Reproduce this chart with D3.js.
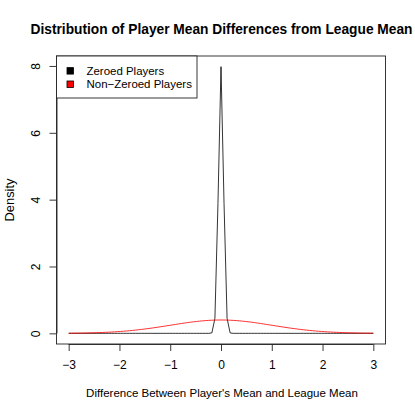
<!DOCTYPE html>
<html><head><meta charset="utf-8">
<script src="https://cdn.jsdelivr.net/npm/d3@7"></script>
<style>
html,body{margin:0;padding:0;background:#fff;}
text{font-family:"Liberation Sans",Arial,Helvetica,sans-serif;}
</style></head>
<body><svg id="c" width="415" height="415"></svg>
<script>
const xValues = [-3,-2.94,-2.88,-2.82,-2.76,-2.7,-2.64,-2.58,-2.52,-2.46,-2.4,-2.34,-2.28,-2.22,-2.16,-2.1,-2.04,-1.98,-1.92,-1.86,-1.8,-1.74,-1.68,-1.62,-1.56,-1.5,-1.44,-1.38,-1.32,-1.26,-1.2,-1.14,-1.08,-1.02,-0.96,-0.9,-0.84,-0.78,-0.72,-0.66,-0.6,-0.54,-0.48,-0.42,-0.36,-0.3,-0.24,-0.18,-0.12,-0.06,0,0.06,0.12,0.18,0.24,0.3,0.36,0.42,0.48,0.54,0.6,0.66,0.72,0.78,0.84,0.9,0.96,1.02,1.08,1.14,1.2,1.26,1.32,1.38,1.44,1.5,1.56,1.62,1.68,1.74,1.8,1.86,1.92,1.98,2.04,2.1,2.16,2.22,2.28,2.34,2.4,2.46,2.52,2.58,2.64,2.7,2.76,2.82,2.88,2.94,3];
const zeroedDensity = [0,0,0,0,0,0,0,0,0,0,0,0,0,0,0,0,0,0,0,0,0,0,0,0,0,0,0,0,0,0,0,0,0,0,0,0,0,0,0,0,0,0,0,0,0,0,0.0001,0.0122,0.448,3.884,7.979,3.884,0.448,0.0122,0.0001,0,0,0,0,0,0,0,0,0,0,0,0,0,0,0,0,0,0,0,0,0,0,0,0,0,0,0,0,0,0,0,0,0,0,0,0,0,0,0,0,0,0,0,0,0,0];
const nonZeroedDensity = [0.0044,0.0053,0.0063,0.0075,0.0088,0.0104,0.0122,0.0143,0.0167,0.0194,0.0224,0.0258,0.0297,0.0339,0.0387,0.0440,0.0498,0.0562,0.0632,0.0707,0.0790,0.0878,0.0973,0.1074,0.1182,0.1295,0.1415,0.1539,0.1669,0.1804,0.1942,0.2083,0.2227,0.2371,0.2516,0.2661,0.2803,0.2943,0.3079,0.3209,0.3332,0.3448,0.3555,0.3653,0.3739,0.3814,0.3876,0.3925,0.3961,0.3982,0.3989,0.3982,0.3961,0.3925,0.3876,0.3814,0.3739,0.3653,0.3555,0.3448,0.3332,0.3209,0.3079,0.2943,0.2803,0.2661,0.2516,0.2371,0.2227,0.2083,0.1942,0.1804,0.1669,0.1539,0.1415,0.1295,0.1182,0.1074,0.0973,0.0878,0.0790,0.0707,0.0632,0.0562,0.0498,0.0440,0.0387,0.0339,0.0297,0.0258,0.0224,0.0194,0.0167,0.0143,0.0122,0.0104,0.0088,0.0075,0.0063,0.0053,0.0044];
const xTicks = [-3,-2,-1,0,1,2,3];
const yTicks = [0,2,4,6,8];
const seriesNames = ["Zeroed Players","Non\u2212Zeroed Players"];
const seriesColors = ["#000000","#ff0000"];

const svg = d3.select("#c");
const L=56.5, R=385.5, T=56, B=344;
const x = d3.scaleLinear().domain([-3.24,3.24]).range([L,R]);
const yMax = 7.979;
const y = d3.scaleLinear().domain([-0.04*yMax, yMax*1.04]).range([B,T]);
const ink = "#222";

function fitWidth(sel, target, base){
  const w = sel.node().getComputedTextLength();
  sel.attr("font-size", base*target/w);
}

// title
const title = svg.append("text").attr("x",(L+R)/2+0.5).attr("y",34).attr("text-anchor","middle")
  .attr("font-size",14.4).attr("font-weight","bold").text("Distribution of Player Mean Differences from League Mean");
fitWidth(title, 382, 14.4);

// lines
const line = d3.line().x((d,i)=>x(xValues[i])).y(d=>y(d));
svg.append("path").datum(zeroedDensity).attr("d",line).attr("fill","none").attr("stroke",seriesColors[0]).attr("stroke-width",0.8);
svg.append("path").datum(nonZeroedDensity).attr("d",line).attr("fill","none").attr("stroke",seriesColors[1]).attr("stroke-width",0.8);

// box
svg.append("rect").attr("x",L).attr("y",T).attr("width",R-L).attr("height",B-T).attr("fill","none").attr("stroke",ink).attr("stroke-width",0.9);

// x axis
const xa = svg.append("g").attr("transform",`translate(0,${B})`)
  .call(d3.axisBottom(x).tickValues(xTicks).tickSize(7).tickPadding(9).tickSizeOuter(0)
  .tickFormat(d=>String(d).replace("-","\u2212")));
xa.select(".domain").attr("d",`M${x(-3)},0.5H${x(3)}`).attr("stroke",ink).attr("stroke-width",0.9);
xa.selectAll(".tick line").attr("stroke",ink).attr("stroke-width",0.9);
xa.selectAll("text").attr("font-size",12).attr("fill","#000").attr("font-family","Liberation Sans, Arial, sans-serif");

// y axis
const ya = svg.append("g").attr("transform",`translate(${L},0)`)
  .call(d3.axisLeft(y).tickValues(yTicks).tickSize(7).tickSizeOuter(0).tickFormat(d3.format("d")));
ya.select(".domain").attr("d",`M0.5,${y(0)}V${y(8)}`).attr("stroke",ink).attr("stroke-width",0.9);
ya.selectAll(".tick line").attr("stroke",ink).attr("stroke-width",0.9);
ya.selectAll("text").attr("font-size",12).attr("fill","#000").attr("font-family","Liberation Sans, Arial, sans-serif")
  .attr("x",0).attr("dy",null).attr("text-anchor","middle")
  .attr("transform",`translate(-20.5,0) rotate(-90)`)
  .attr("y",0).attr("dominant-baseline","central");

// axis titles
const xt = svg.append("text").attr("x",(L+R)/2+1).attr("y",397).attr("text-anchor","middle").attr("font-size",12)
  .text("Difference Between Player's Mean and League Mean");
fitWidth(xt, 272, 12);
const yt = svg.append("text").attr("transform",`translate(14,${(T+B)/2}) rotate(-90)`).attr("text-anchor","middle").attr("font-size",12)
  .text("Density");
fitWidth(yt, 43, 12);

// legend
const lg = svg.append("g");
lg.append("rect").attr("x",L).attr("y",T).attr("width",140.5).attr("height",42).attr("fill","#fff").attr("stroke",ink).attr("stroke-width",0.9);
const legendTexts = [];
seriesNames.forEach((n,i)=>{
  const cy = 70.8 + i*13.4;
  lg.append("rect").attr("x",67).attr("y",cy-3.2).attr("width",6.5).attr("height",6.5).attr("fill",seriesColors[i]).attr("stroke","#000").attr("stroke-width",0.8);
  legendTexts.push(lg.append("text").attr("x",86.5).attr("y",cy+4.2).attr("font-size",12).text(n));
});
const w2 = legendTexts[1].node().getComputedTextLength();
const lfs = 12*105.5/w2;
legendTexts.forEach(t=>t.attr("font-size",lfs));
</script></body></html>
